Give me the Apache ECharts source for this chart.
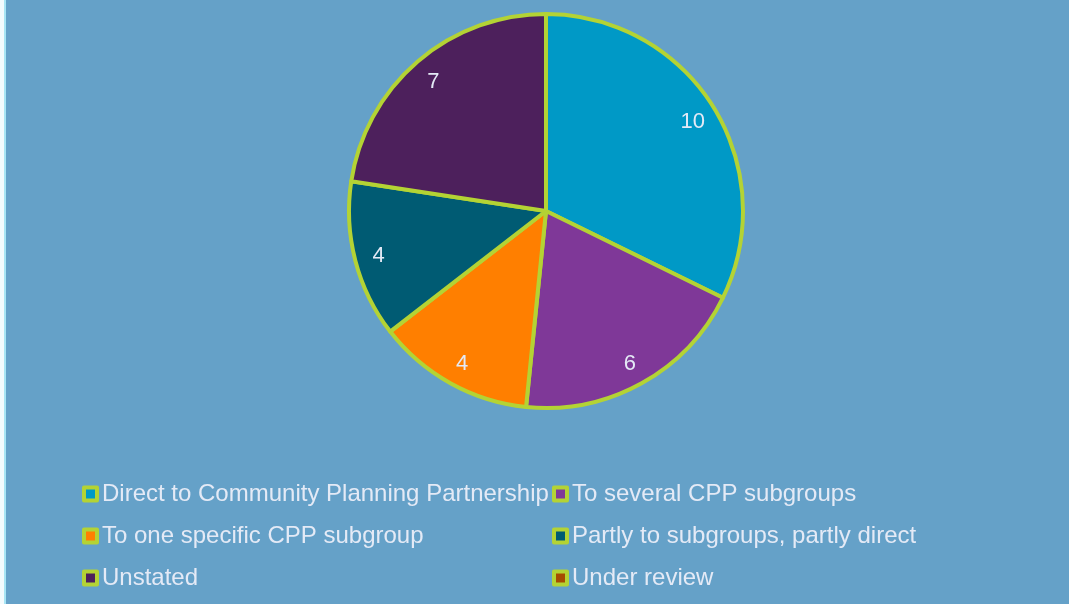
<!DOCTYPE html>
<html>
<head>
<meta charset="utf-8">
<script src="https://cdn.jsdelivr.net/npm/echarts@6/dist/echarts.min.js"></script>
<style>
html,body{margin:0;padding:0;background:#fff;}
#c{width:1069px;height:604px;}
</style>
</head>
<body>
<div id="c"></div>
<script>
const categories = [
  "Direct to Community Planning Partnership",
  "To several CPP subgroups",
  "To one specific CPP subgroup",
  "Partly to subgroups, partly direct",
  "Unstated",
  "Under review"
];
const values = [10, 6, 4, 4, 7, 0];
const colors = ["#0099C6", "#7F3898", "#FF7F00", "#005B73", "#4D205C", "#A64C00"];
const legendLeftCol = [categories[0], categories[2], categories[4]];
const legendRightCol = [categories[1], categories[3], categories[5]];

const chart = echarts.init(document.getElementById('c'), null, {renderer: 'canvas'});
const border = "#B4D334";
const txt = "#E4EAF6";
const font = "'Liberation Sans', Arial, sans-serif";

const sliceData = categories.map((n, i) => ({
  name: n, value: values[i], itemStyle: {color: colors[i]}
}));
const labelData = categories.map((n, i) => ({
  name: n, value: values[i],
  label: {show: values[i] > 0}
}));

const legendCommon = {
  orient: 'vertical',
  icon: 'rect',
  itemWidth: 13,
  itemHeight: 13,
  itemGap: 16,
  padding: 0,
  top: 481,
  selectedMode: false,
  itemStyle: {borderColor: border, borderWidth: 4},
  textStyle: {color: txt, fontSize: 24, fontFamily: font, lineHeight: 26}
};

chart.setOption({
  backgroundColor: "#65A1C8",
  animation: false,
  graphic: [
    {type: 'rect', shape: {x: 0, y: 0, width: 4, height: 604}, style: {fill: '#F4FBFD'}, silent: true, z: 100},
    {type: 'rect', shape: {x: 4, y: 0, width: 2, height: 604}, style: {fill: '#A9E5F4'}, silent: true, z: 100}
  ],
  legend: [
    Object.assign({}, legendCommon, {left: 82, data: legendLeftCol}),
    Object.assign({}, legendCommon, {left: 552, data: legendRightCol})
  ],
  series: [
    {
      type: 'pie',
      center: [546, 211],
      radius: [0, 197],
      startAngle: 90,
      clockwise: true,
      label: {show: false},
      labelLine: {show: false},
      emphasis: {disabled: true},
      itemStyle: {borderColor: border, borderWidth: 4},
      data: sliceData
    },
    {
      type: 'pie',
      center: [546, 213],
      radius: [146, 194],
      startAngle: 90,
      clockwise: true,
      silent: true,
      legendHoverLink: false,
      itemStyle: {color: 'rgba(0,0,0,0)', borderWidth: 0},
      label: {position: 'inside', formatter: '{c}', color: txt, fontSize: 22, fontFamily: font},
      labelLine: {show: false},
      emphasis: {disabled: true},
      data: labelData
    }
  ]
});
</script>
</body>
</html>
